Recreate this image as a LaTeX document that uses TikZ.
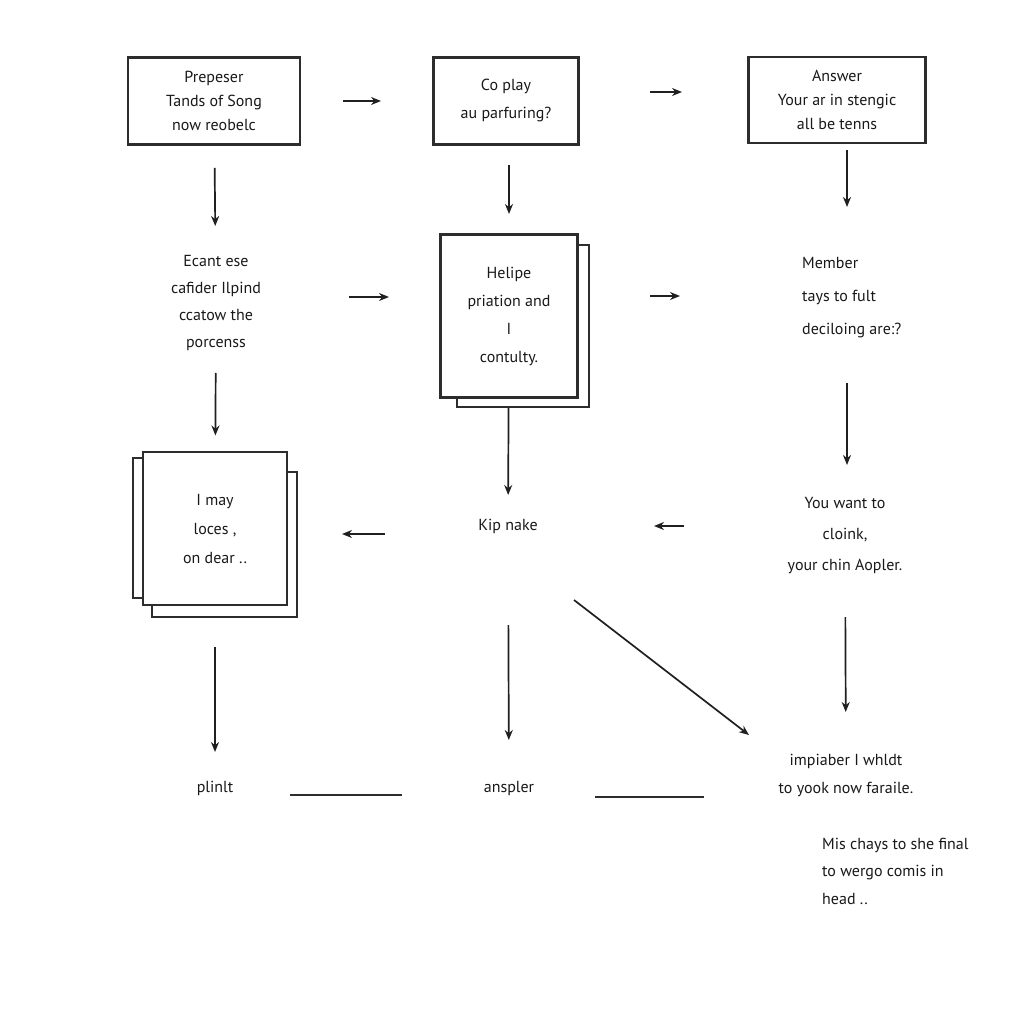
\documentclass[tikz,border=0pt]{standalone}
\usepackage{fontspec}
\setmainfont{PT Sans}
\usetikzlibrary{arrows.meta}

\tikzset{
  box/.style={draw=gray!35!black, line width=2.2pt, fill=white, inner sep=0pt, align=center},
  sheet/.style={draw=gray!35!black, line width=1.9pt, fill=white, inner sep=0pt},
  lbl/.style={align=center, inner sep=0pt},
  lead/.style={font=\fontsize{16}{#1}\selectfont},
  arr/.style={draw=gray!25!black, line width=1.7pt, -{Stealth[length=10pt,width=8pt]}},
  link/.style={draw=gray!35!black, line width=2pt},
}

\begin{document}
\begin{tikzpicture}[x=1pt, y=-1pt, font=\fontsize{16}{24}\selectfont, text=gray!20!black]
  \useasboundingbox[fill=white] (0,0) rectangle (1024,1024);

  % top row
  \node[box, minimum width=172pt, minimum height=87pt] (prep) at (214,101) {Prepeser\\Tands of Song\\now reobelc};
  \node[box, lead=28, minimum width=145pt, minimum height=87pt] (play) at (506,101) {Co play\\au parfuring?};
  \node[box, minimum width=177pt, minimum height=86pt] (answ) at (837,100) {Answer\\Your ar in stengic\\all be tenns};

  % middle row
  \node[lbl, lead=27] (ecant) at (216,303) {Ecant ese\\cafider Ilpind\\ccatow the\\porcenss};
  \node[sheet, minimum width=132pt, minimum height=162pt] (helipeback) at (523,326) {};
  \node[box, lead=28, minimum width=137pt, minimum height=163pt] (helipe) at (509,316) {Helipe\\priation and\\I\\contulty.};
  \node[lbl, lead=33, align=left, anchor=west] (member) at (802,298) {Member\\tays to fult\\deciloing are:?};

  % third row
  \node[sheet, minimum width=147pt, minimum height=140pt] (imayleft) at (206.5,528) {};
  \node[sheet, minimum width=145pt, minimum height=145pt] (imayright) at (224.5,544.5) {};
  \node[box, lead=29, minimum width=144pt, minimum height=153pt] (imay) at (215,528.5) {I may\\loces ,\\on dear ..};
  \node[lbl] (kip) at (508,526) {Kip nake};
  \node[lbl, lead=31] (want) at (845,536) {You want to\\cloink,\\your chin Aopler.};

  % bottom row
  \node[lbl] (plinlt) at (215,788) {plinlt};
  \node[lbl] (anspler) at (509,788) {anspler};
  \node[lbl, lead=28] (impl) at (846,775) {impiaber I whldt\\to yook now faraile.};
  \node[lbl, lead=27.5, align=left, anchor=west] (mis) at (822,871) {Mis chays to she final\\to wergo comis in\\head ..};

  % connectors
  \draw[arr, shorten <=129pt, shorten >=125pt] (prep.center) -- (play.center);
  \draw[arr, shorten <=144pt, shorten >=155pt] ([shift={(0,-9)}]play.center) -- ([shift={(0,-8)}]answ.center);
  \draw[arr, shorten <=67pt, shorten >=77pt] (prep.center) -- (ecant.center);
  \draw[arr, shorten <=64pt, shorten >=102pt] ([shift={(3,0)}]play.center) -- (helipe.center);
  \draw[arr, shorten <=50pt, shorten >=91pt] ([shift={(10,0)}]answ.center) -- ([shift={(45,0)}]member.west);
  \draw[arr, shorten <=133pt, shorten >=120pt] ([shift={(0,-6)}]ecant.center) -- ([shift={(0,-19)}]helipe.center);
  \draw[arr, shorten <=141pt, shorten >=122pt] ([shift={(0,-20)}]helipe.center) -- ([shift={(0,-2)}]member.west);
  \draw[arr, shorten <=70pt, shorten >=93pt] (ecant.center) -- (imay.center);
  \draw[arr, shorten <=92pt, shorten >=31pt] (helipe.center) -- (kip.center);
  \draw[arr, shorten <=85pt, shorten >=71pt] ([shift={(45,0)}]member.west) -- ([shift={(2,0)}]want.center);
  \draw[arr, shorten <=123pt, shorten >=127pt] ([shift={(0,8)}]kip.center) -- ([shift={(0,5.5)}]imay.center);
  \draw[arr, shorten <=161pt, shorten >=146pt] ([shift={(0,-10)}]want.center) -- (kip.center);
  \draw[arr, shorten <=118.5pt, shorten >=36pt] (imay.center) -- (plinlt.center);
  \draw[arr, shorten <=99pt, shorten >=48pt] (kip.center) -- (anspler.center);
  \draw[arr, shorten <=81pt, shorten >=63pt] (want.center) -- (impl.center);
  \draw[arr] ([shift={(66,74)}]kip.center) -- ([shift={(-97,-40)}]impl.center);
  \draw[link, shorten <=75pt, shorten >=107pt] ([shift={(0,7)}]plinlt.center) -- ([shift={(0,7)}]anspler.center);
  \draw[link, shorten <=86pt, shorten >=142pt] ([shift={(0,9)}]anspler.center) -- ([shift={(0,22)}]impl.center);
\end{tikzpicture}
\end{document}
